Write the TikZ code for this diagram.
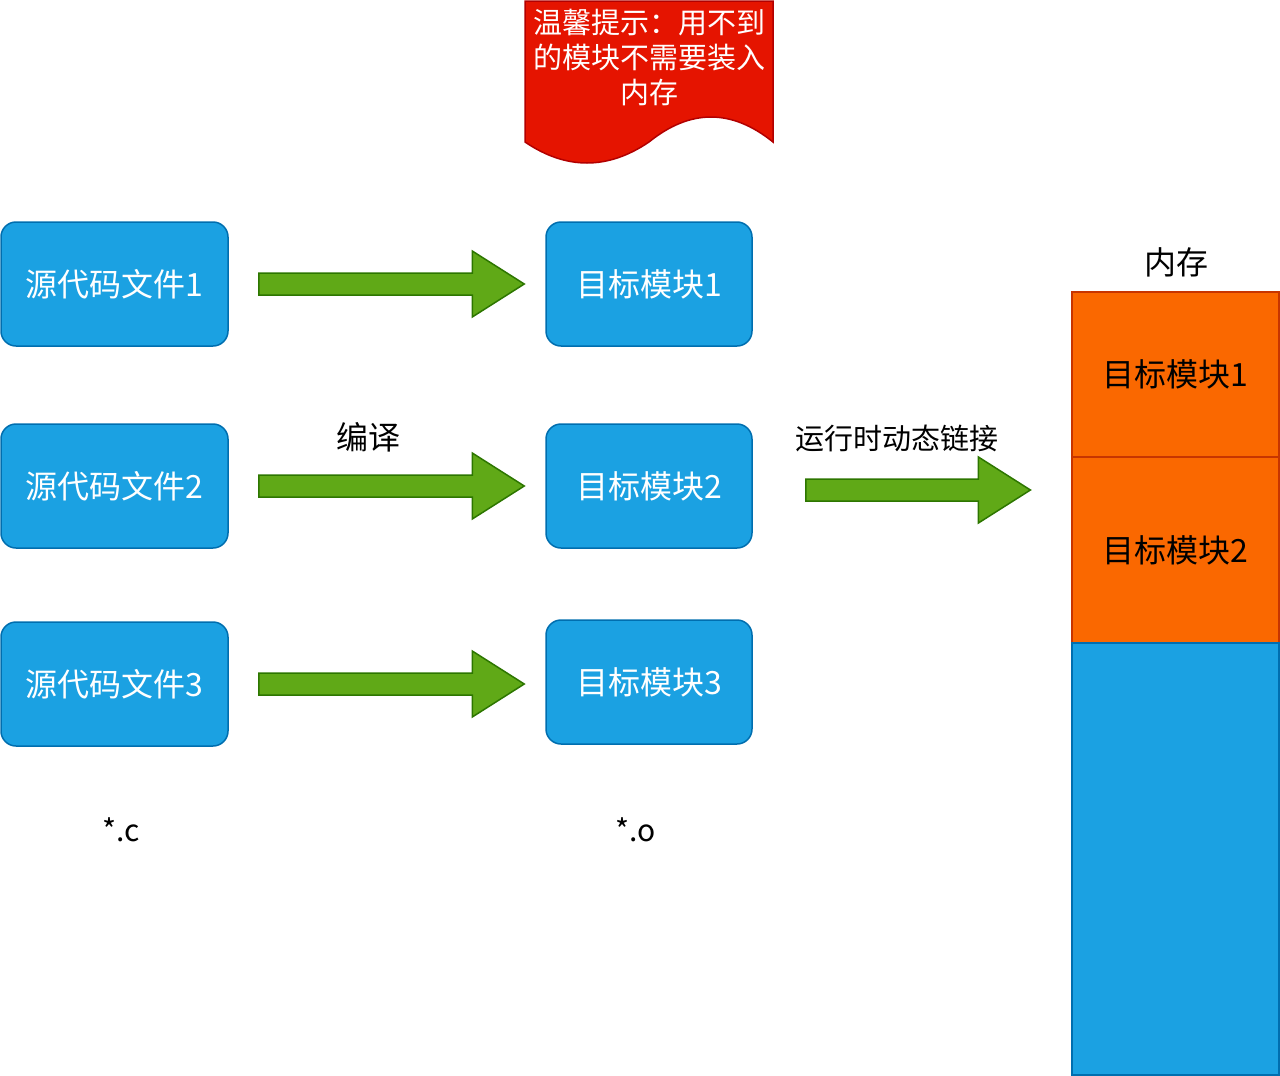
\documentclass[tikz,border=0pt]{standalone}
\usepackage{fontspec}
\setmainfont{Noto Sans CJK SC}
\usetikzlibrary{calc}

\definecolor{boxblue}{HTML}{1BA1E2}
\definecolor{boxblueline}{HTML}{006EAF}
\definecolor{memorange}{HTML}{FA6800}
\definecolor{memorangeline}{HTML}{C73500}
\definecolor{arrowgreen}{HTML}{60A917}
\definecolor{arrowgreenline}{HTML}{2D7600}
\definecolor{notered}{HTML}{E51400}
\definecolor{noteredline}{HTML}{B20000}

\tikzset{
  filebox/.style={draw=boxblueline, fill=boxblue, line width=1.5pt,
    rounded corners=15pt, minimum height=124pt, inner sep=0pt,
    text=white, font=\fontsize{32}{38}\selectfont},
  srcbox/.style={filebox, minimum width=227pt},
  objbox/.style={filebox, minimum width=206pt},
  memcell/.style={draw=memorangeline, fill=memorange, line width=1.2pt,
    minimum width=207pt, inner sep=0pt, text=black,
    font=\fontsize{32}{38}\selectfont},
  memfree/.style={draw=boxblueline, fill=boxblue, line width=1.5pt,
    minimum width=207pt, inner sep=0pt},
  fatarrowstyle/.style={draw=arrowgreenline, fill=arrowgreen, line width=1.5pt,
    line join=miter},
  notebody/.style={draw=noteredline, fill=notered, line width=1.5pt},
  caption/.style={text=black, inner sep=0pt},
}

% broad block arrow from one point to another (horizontal)
\newcommand\fatarrow[2]{%
  \path[fatarrowstyle] let \p1=#1, \p2=#2 in
    (\x1,\y1+11pt) -- (\x2-52pt,\y1+11pt) -- (\x2-52pt,\y1+33pt) --
    (\x2,\y1) -- (\x2-52pt,\y1-33pt) -- (\x2-52pt,\y1-11pt) --
    (\x1,\y1-11pt) -- cycle;}

\begin{document}
\begin{tikzpicture}[x=1pt, y=-1pt]
  \useasboundingbox (0,0) rectangle (1280,1076);

  % note with wavy lower edge
  \path[notebody] (525,1) -- (773,1) -- (773,142)
    .. controls (731.7,108.7) and (690.3,108.7) .. (649,142)
    .. controls (607.7,170) and (566.3,170) .. (525,142) -- cycle;
  \node[text=white, align=center, inner sep=0pt,
        font=\fontsize{29}{35}\selectfont] (note) at (649,58)
    {温馨提示：用不到\\的模块不需要装入\\内存};

  % source files
  \node[srcbox] (s1) at (114.5,284) {源代码文件1};
  \node[srcbox] (s2) at (114.5,486) {源代码文件2};
  \node[srcbox] (s3) at (114.5,684) {源代码文件3};

  % object modules
  \node[objbox] (t1) at (649,284) {目标模块1};
  \node[objbox] (t2) at (649,486) {目标模块2};
  \node[objbox] (t3) at (649,682) {目标模块3};

  % memory column
  \node[memcell, minimum height=165pt] (m1) at (1175.5,374.5) {目标模块1};
  \node[memcell, minimum height=186pt] (m2) at (1175.5,550) {目标模块2};
  \node[memfree, minimum height=432pt] (m3) at (1175.5,859) {};

  % compile arrows
  \fatarrow{($(s1.east)+(30,0)$)}{($(t1.west)+(-21,0)$)}
  \fatarrow{($(s2.east)+(30,0)$)}{($(t2.west)+(-21,0)$)}
  \fatarrow{($(s3.east)+(30,0)$)}{($(t3.west)+(-21,0)$)}

  % link arrow into memory
  \fatarrow{($(t2.east)+(53,4)$)}{($(m1.south west)+(-41,35)$)}

  % captions
  \node[caption, font=\fontsize{32}{38}\selectfont] (compile) at (368,437) {编译};
  \node[caption, font=\fontsize{29}{35}\selectfont] (link) at (897,438) {运行时动态链接};
  \node[caption, font=\fontsize{32}{38}\selectfont] (memlabel) at (1176,262) {内存};
  \node[caption, font=\fontsize{30}{36}\selectfont] (csuffix) at (121,830) {*.c};
  \node[caption, font=\fontsize{30}{36}\selectfont] (osuffix) at (636,830) {*.o};
\end{tikzpicture}
\end{document}
